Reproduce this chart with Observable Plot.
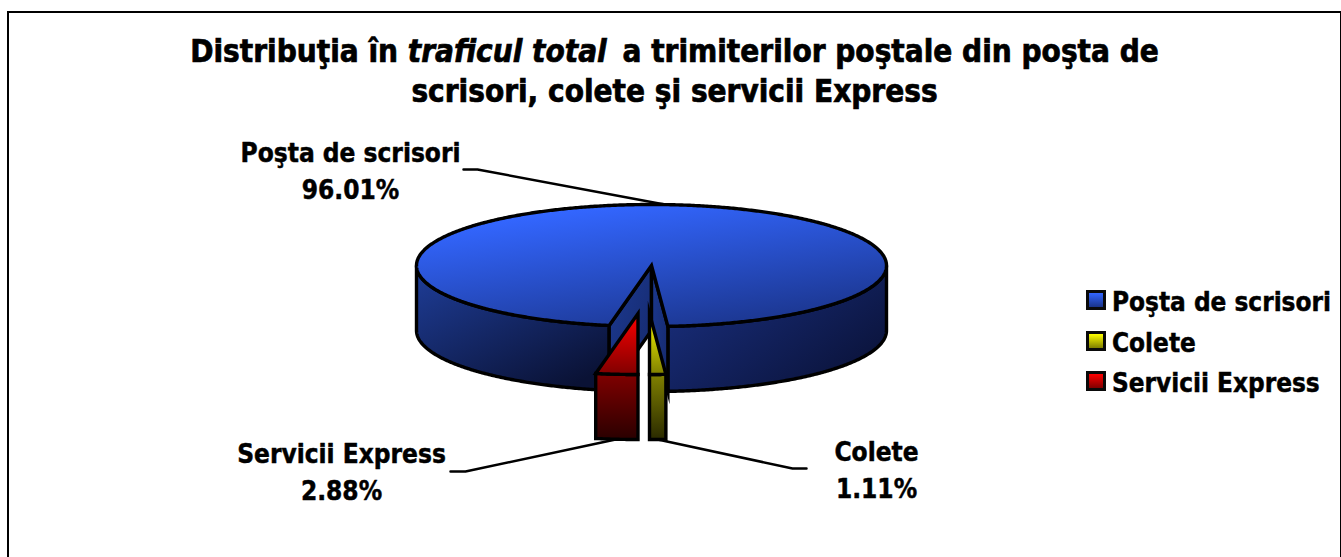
<!DOCTYPE html>
<html lang="ro">
<head>
<meta charset="utf-8">
<script src="https://cdn.jsdelivr.net/npm/d3@7"></script>
<script src="https://cdn.jsdelivr.net/npm/@observablehq/plot@0.6"></script>
<style>
html,body{margin:0;padding:0;background:#fff;overflow:hidden}
#page{position:relative;width:1341px;height:557px;overflow:hidden;font-family:"DejaVu Sans",sans-serif;font-stretch:condensed;font-weight:700;color:#000}
#frame{position:absolute;left:7px;top:10.5px;right:0.5px;bottom:-20px;border:2.75px solid #000;border-right-width:1.5px}
#title{position:relative;box-sizing:border-box;height:125px;padding-top:31px;padding-left:8px;text-align:center;font-size:31.2px;line-height:40px;-webkit-text-stroke:.7px #000}
#title i{font-style:italic;margin-right:6px}
#row{position:relative;display:flex}
#row svg{display:block;flex:none}
#legend{margin-left:11px;padding-top:157px;font-size:25.9px;-webkit-text-stroke:.45px #000}
.item{display:flex;align-items:center;height:40.5px;white-space:nowrap}
.sw{box-sizing:border-box;width:20px;height:20px;border:3px solid #0a0a0a;margin-right:6px;flex:none;position:relative;top:-2px}
</style>
</head>
<body>
<div id="page">
  <div id="frame"></div>
  <div id="title">Distribuţia în <i>traficul total</i> a trimiterilor poştale din poşta de<br>scrisori, colete şi servicii Express</div>
  <div id="row"><div id="chart"></div><div id="legend"></div></div>
</div>
<script>
const categories = ["Poşta de scrisori", "Colete", "Servicii Express"];
const shares = [96.01, 1.11, 2.88];
const topColors = [["#3366ff", "#1a3388"], ["#ffff00", "#7f7f00"], ["#ff0000", "#800000"]];
const sideColors = [["#1f3e9a", "#0a1235"], ["#808000", "#2a2a00"], ["#800000", "#2a0000"]];
const wallColors = ["#1c3a92", "#15286a"];

// Chart area in pixels, and the ellipse the unit pie is projected on.
const W = 1075, H = 432, top0 = 125;
const cx = 651, cy = 265, rx = 235, ry = 61, depthPx = 65;
const ux = px => (px - cx) / rx;
const uy = py => (py - cy) / ry;
const depth = depthPx / ry;

// Slice angles come from the shares, clockwise from due south.
const rad = d3.sum(shares);
const sv = shares[2] / rad * 2 * Math.PI, cl = shares[1] / rad * 2 * Math.PI;
const angles = {
  blue: [sv, 2 * Math.PI - cl],
  yellow: [2 * Math.PI - cl, 2 * Math.PI],
  red: [0, sv]
};
const explodeRed = [ux(637.5), uy(313)];
const explodeYellow = [ux(649), uy(313)];

const pt = (a, o = [0, 0], dz = 0) => ({x: o[0] - Math.sin(a), y: o[1] + Math.cos(a) + dz});
const arc = (a0, a1, o = [0, 0], dz = 0) => {
  const n = Math.max(2, Math.ceil(Math.abs(a1 - a0) * 120));
  return d3.range(n + 1).map(i => pt(a0 + (a1 - a0) * i / n, o, dz));
};
const apex = (o = [0, 0], dz = 0) => ({x: o[0], y: o[1] + dz});
const wedge = (a0, a1, o) => [apex(o), ...arc(a0, a1, o)];
const side = (a0, a1, o) => [...arc(a0, a1, o), ...arc(a0, a1, o, depth).reverse()];
const inner = (a, o = [0, 0]) => [apex(o), pt(a, o), pt(a, o, depth), apex(o, depth)];

const poly = (pts, fill) => Plot.line(pts, {
  x: "x", y: "y", fill, stroke: "#000", strokeWidth: 3.4,
  curve: "linear-closed", strokeLinejoin: "miter", strokeMiterlimit: 8
});

const gradients = () => {
  const g = d3.create("svg:g");
  const defs = g.append("defs");
  const add = (id, [a, b], x1, y1, x2, y2) => {
    const lg = defs.append("linearGradient").attr("id", id)
      .attr("x1", x1).attr("y1", y1).attr("x2", x2).attr("y2", y2);
    lg.append("stop").attr("offset", "0").attr("stop-color", a);
    lg.append("stop").attr("offset", "1").attr("stop-color", b);
  };
  add("blueTop", topColors[0], 0.32, 0.05, 0.82, 1);
  add("blueLeft", sideColors[0], 0, 0, 0.75, 1);
  add("blueRight", ["#1b3286", "#0a1238"], 0, 0, 1, 0.8);
  add("wall", wallColors, 0, 0, 1, 1);
  add("yellowTop", topColors[1], 0, 0, 0, 1);
  add("yellowSide", sideColors[1], 0, 0, 0, 1);
  add("redTop", topColors[2], 0, 0, 0, 1);
  add("redSide", sideColors[2], 0, 0, 0, 1);
  return g.node();
};

// Leader lines start on each slice at its middle angle.
const midBlue = d3.mean(angles.blue), midYellow = d3.mean(angles.yellow), midRed = d3.mean(angles.red);
const leaders = [
  [pt(midBlue), {x: ux(477), y: uy(169)}, {x: ux(463), y: uy(169)}],
  [pt(midYellow, explodeYellow, depth), {x: ux(792), y: uy(468)}, {x: ux(806), y: uy(468)}],
  [pt(midRed, explodeRed, depth), {x: ux(465), y: uy(471)}, {x: ux(450), y: uy(471)}]
];
const labelSpots = [[350, 168], [876, 467.5], [341, 469]];
const labels = categories.map((c, i) => ({
  x: ux(labelSpots[i][0]), y: uy(labelSpots[i][1]),
  text: c + "\n" + shares[i].toFixed(2) + "%"
}));

const chart = Plot.plot({
  width: W, height: H, margin: 0,
  x: {domain: [ux(0), ux(W)], range: [0, W], axis: null},
  y: {domain: [uy(top0), uy(top0 + H)], range: [0, H], axis: null},
  style: {background: "transparent", overflow: "visible"},
  marks: [
    gradients,
    poly(side(angles.blue[0], Math.PI / 2), "url(#blueLeft)"),
    poly(side(1.5 * Math.PI, angles.blue[1]), "url(#blueRight)"),
    poly(inner(angles.blue[0]), "url(#wall)"),
    poly(inner(angles.blue[1]), "url(#wall)"),
    poly(wedge(...angles.blue), "url(#blueTop)"),
    ...leaders.map(l => Plot.line(l, {x: "x", y: "y", stroke: "#000", strokeWidth: 2.5, curve: "linear"})),
    poly(side(...angles.yellow, explodeYellow), "url(#yellowSide)"),
    poly(wedge(...angles.yellow, explodeYellow), "url(#yellowTop)"),
    poly(side(...angles.red, explodeRed), "url(#redSide)"),
    poly(wedge(...angles.red, explodeRed), "url(#redTop)"),
    Plot.text(labels, {
      x: "x", y: "y", text: "text", fill: "#000", fontSize: 26, fontWeight: 700,
      fontFamily: "'DejaVu Sans'", lineHeight: 1.42, textAnchor: "middle",
      stroke: "#000", strokeWidth: 0.45
    })
  ]
});
chart.querySelectorAll("text").forEach(t => t.style.fontStretch = "condensed");
document.getElementById("chart").append(chart);

const legend = document.getElementById("legend");
categories.forEach((c, i) => {
  const it = document.createElement("div"); it.className = "item";
  const sw = document.createElement("span"); sw.className = "sw";
  sw.style.background = `linear-gradient(${topColors[i][0]},${topColors[i][1]})`;
  it.append(sw, document.createTextNode(c));
  legend.append(it);
});
</script>
</body>
</html>
